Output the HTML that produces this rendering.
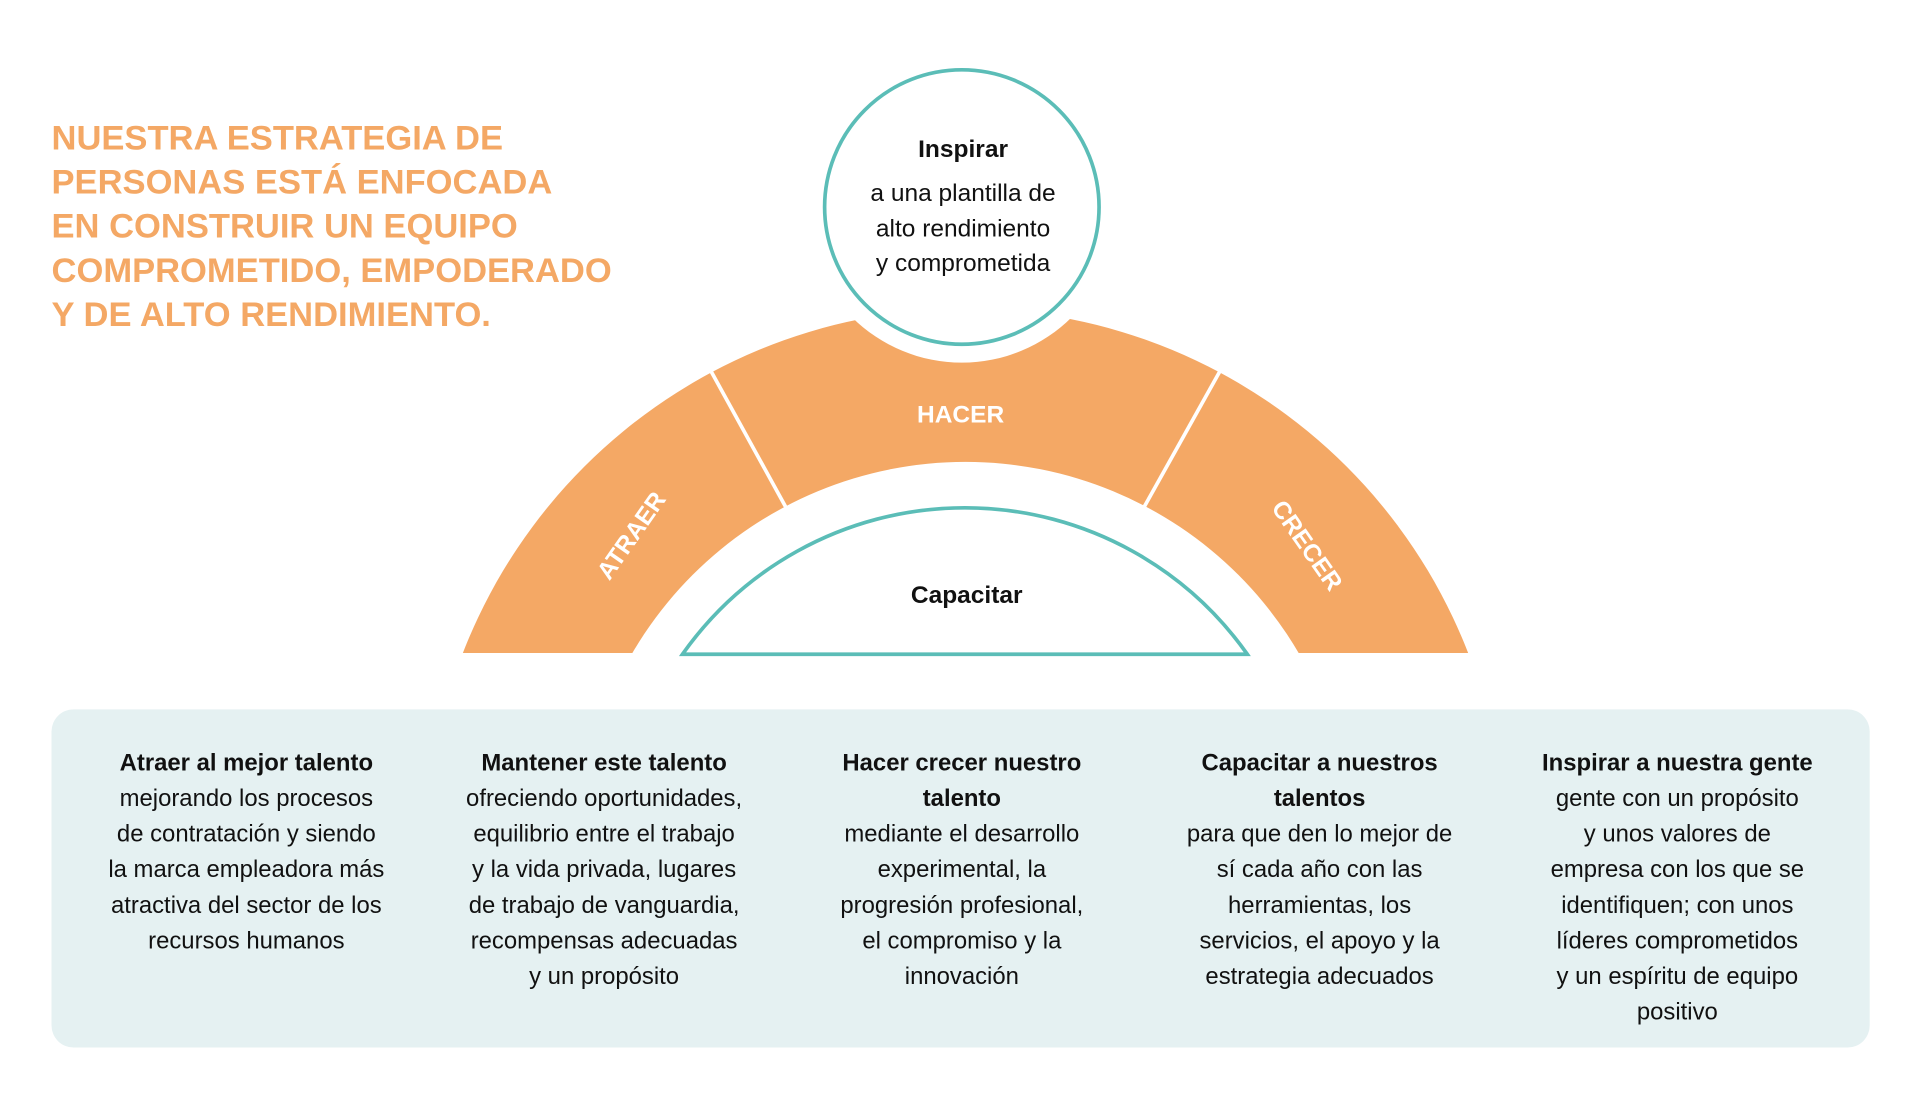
<!DOCTYPE html>
<html><head><meta charset="utf-8"><style>
html,body{margin:0;padding:0;background:#fff;width:1920px;height:1098px;overflow:hidden}
svg{display:block}
text{font-family:"Liberation Sans",sans-serif}
</style></head><body>
<svg width="1920" height="1098" viewBox="0 0 1567 896.2" xmlns="http://www.w3.org/2000/svg">
<defs><clipPath id="c"><rect x="0" y="0" width="1560" height="533"/></clipPath></defs>
<g fill="#f4a865" font-weight="bold" font-size="28.2">
<text x="42" y="122">NUESTRA ESTRATEGIA DE</text>
<text x="42" y="158">PERSONAS ESTÁ ENFOCADA</text>
<text x="42" y="194">EN CONSTRUIR UN EQUIPO</text>
<text x="42" y="230">COMPROMETIDO, EMPODERADO</text>
<text x="42" y="266">Y DE ALTO RENDIMIENTO.</text>
</g>
<path clip-path="url(#c)" fill="#f4a865" fill-rule="evenodd" d="M348,692 A440,440 0 1,1 1228,692 A440,440 0 1,1 348,692 Z M473,692 A315,315 0 1,0 1103,692 A315,315 0 1,0 473,692 Z"/>
<circle cx="785" cy="169" r="127" fill="#fff"/>
<line x1="577" y1="297" x2="643" y2="417" stroke="#fff" stroke-width="3"/>
<line x1="999" y1="297" x2="932" y2="417" stroke="#fff" stroke-width="3"/>
<circle cx="785" cy="169" r="112" fill="#fff" stroke="#5bbdb7" stroke-width="3"/>
<path d="M557,534 A282,282 0 0,1 1018,534 Z" fill="#fff" stroke="#5bbdb7" stroke-width="3"/>
<g fill="#fff" font-weight="bold" font-size="20" text-anchor="middle">
<text x="784" y="345">HACER</text>
<text transform="translate(515,437) rotate(-55)" y="7">ATRAER</text>
<text transform="translate(1067,445) rotate(55)" y="7">CRECER</text>
</g>
<g fill="#111" text-anchor="middle" font-size="20">
<text x="786" y="128" font-weight="bold">Inspirar</text>
<text x="786" y="164">a una plantilla de</text>
<text x="786" y="193">alto rendimiento</text>
<text x="786" y="221">y comprometida</text>
<text x="789" y="492" font-weight="bold">Capacitar</text>
</g>
<rect x="42" y="579" width="1484" height="276" rx="18" fill="#e5f1f2"/>
<g fill="#111" text-anchor="middle" font-size="19.5">
<g transform="translate(201,0)">
<text y="629" font-weight="bold">Atraer al mejor talento</text>
<text y="658">mejorando los procesos</text>
<text y="687">de contratación y siendo</text>
<text y="716">la marca empleadora más</text>
<text y="745">atractiva del sector de los</text>
<text y="774">recursos humanos</text>
</g>
<g transform="translate(493,0)">
<text y="629" font-weight="bold">Mantener este talento</text>
<text y="658">ofreciendo oportunidades,</text>
<text y="687">equilibrio entre el trabajo</text>
<text y="716">y la vida privada, lugares</text>
<text y="745">de trabajo de vanguardia,</text>
<text y="774">recompensas adecuadas</text>
<text y="803">y un propósito</text>
</g>
<g transform="translate(785,0)">
<text y="629" font-weight="bold">Hacer crecer nuestro</text>
<text y="658" font-weight="bold">talento</text>
<text y="687">mediante el desarrollo</text>
<text y="716">experimental, la</text>
<text y="745">progresión profesional,</text>
<text y="774">el compromiso y la</text>
<text y="803">innovación</text>
</g>
<g transform="translate(1077,0)">
<text y="629" font-weight="bold">Capacitar a nuestros</text>
<text y="658" font-weight="bold">talentos</text>
<text y="687">para que den lo mejor de</text>
<text y="716">sí cada año con las</text>
<text y="745">herramientas, los</text>
<text y="774">servicios, el apoyo y la</text>
<text y="803">estrategia adecuados</text>
</g>
<g transform="translate(1369,0)">
<text y="629" font-weight="bold">Inspirar a nuestra gente</text>
<text y="658">gente con un propósito</text>
<text y="687">y unos valores de</text>
<text y="716">empresa con los que se</text>
<text y="745">identifiquen; con unos</text>
<text y="774">líderes comprometidos</text>
<text y="803">y un espíritu de equipo</text>
<text y="832">positivo</text>
</g>
</g>
</svg>
</body></html>
